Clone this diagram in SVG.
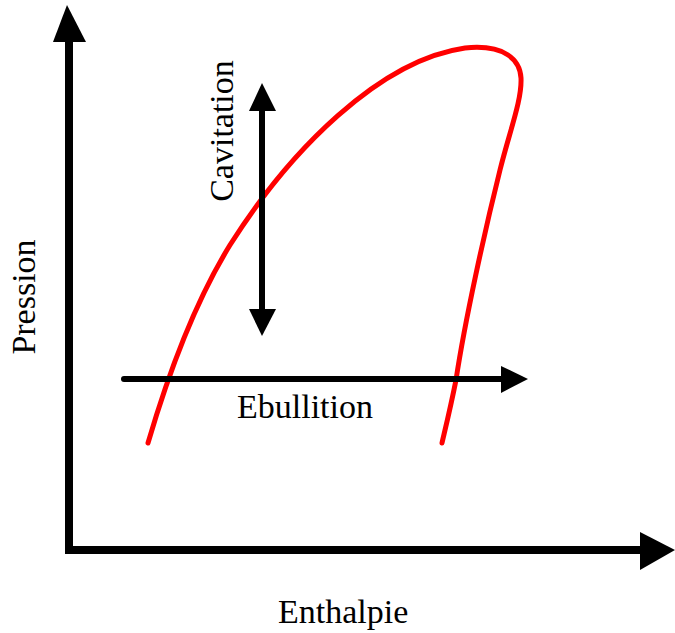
<svg xmlns="http://www.w3.org/2000/svg" width="675" height="633" viewBox="0 0 675 633">
<style>
.ax{stroke:#000;stroke-width:8;fill:none}
.ar{stroke:#000;stroke-width:6;fill:none;stroke-linecap:round}
.hd{fill:#000}
.lbl{font-family:"Liberation Serif","Times New Roman",serif;font-size:34px;fill:#000}
.curve{stroke:#f00;stroke-width:5;fill:none;stroke-linecap:round;stroke-linejoin:round}
</style>
<rect width="675" height="633" fill="#fff"/>
<g id="curve">
<path class="curve" d="M148,443 C165,385 190,310 230,245 C290,150 380,60 465,48 C505,44 520,60 521,78 C522,100 510,130 500,170 C485,230 465,320 456,380 C450,410 445,430 442,443"/>
</g>
<g id="connectors">
<line class="ax" x1="69" y1="38" x2="69" y2="554"/>
<polygon class="hd" points="67,5 53,42 86,42"/>
<line class="ax" x1="65" y1="550" x2="642" y2="550"/>
<polygon class="hd" points="640,532 675,550 640,570"/>
<line class="ar" x1="262" y1="106" x2="262" y2="312"/>
<polygon class="hd" points="262,83 249,111 276,111"/>
<polygon class="hd" points="249,309 276,309 262,336"/>
<line class="ar" x1="124" y1="379" x2="504" y2="379"/>
<polygon class="hd" points="501,366 528,379 501,393"/>
</g>
<g id="pression"><text class="lbl" text-anchor="middle" transform="translate(35,297) rotate(-90)">Pression</text></g>
<g id="cavitation"><text class="lbl" text-anchor="middle" transform="translate(233,131) rotate(-90)">Cavitation</text></g>
<g id="ebullition"><text class="lbl" x="237" y="418">Ebullition</text></g>
<g id="enthalpie"><text class="lbl" x="278" y="623">Enthalpie</text></g>
</svg>
